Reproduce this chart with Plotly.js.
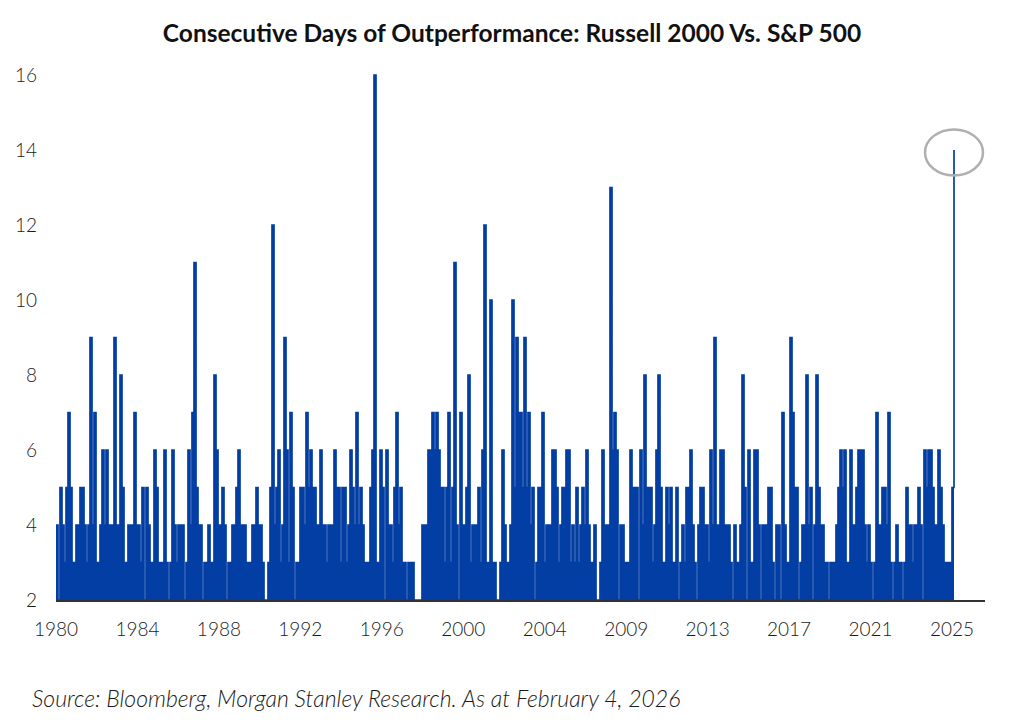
<!DOCTYPE html>
<html>
<head>
<meta charset="utf-8">
<script src="https://cdn.plot.ly/plotly-3.0.1.min.js"></script>
<style>
  html, body { margin: 0; padding: 0; background: #ffffff; }
  #chart { width: 1024px; height: 726px; }
</style>
</head>
<body>
<div id="chart"></div>
<script>
// Consecutive days of Russell 2000 outperformance vs S&P 500 (streak lengths)
const streakDays = [
  4,2,5,4,3,5,7,5,3,3, 4,4,5,5,4,3,4,9,4,7, 3,3,4,6,4,6,4,4,4,9, 4,4,8,5,3,3,4,4,4,7,
  4,4,3,5,2,5,4,3,3,6, 5,3,3,3,6,3,2,3,6,4, 3,4,4,4,2,3,6,4,7,11, 5,4,4,2,3,3,4,3,3,8,
  6,4,4,5,4,2,3,3,4,4, 5,6,4,4,4,3,3,3,4,4, 5,4,4,3,2,2,3,5,12,4, 5,6,3,4,9,6,3,7,5,2,
  3,3,5,5,4,7,5,6,5,5, 4,4,6,4,4,3,4,4,4,6, 5,5,3,5,5,3,4,6,5,4, 7,4,5,4,3,3,3,5,6,16,
  3,3,6,5,2,6,4,4,3,5, 7,4,5,3,3,2,3,3,3,2, 2,2,2,4,4,4,6,6,7,6, 7,6,5,5,3,5,7,3,5,11,
  4,2,7,4,4,5,8,3,4,4, 4,5,3,6,12,3,3,10,3,3, 2,2,3,6,4,3,3,4,10,5, 9,7,7,5,9,5,7,4,5,2,
  3,5,5,7,3,4,4,4,6,6, 5,3,4,5,5,6,6,3,4,3, 5,3,4,5,4,6,4,3,3,4, 2,2,3,6,4,4,4,13,6,7,
  6,2,4,4,3,3,3,6,5,5, 5,2,6,4,8,5,5,5,3,4, 6,8,5,3,3,5,4,5,3,3, 5,2,3,4,3,5,5,6,4,3,
  2,4,5,5,4,4,3,6,4,9, 4,4,6,6,4,4,4,3,2,4, 3,3,4,8,5,2,6,3,3,6, 6,4,2,4,4,4,5,5,3,2,
  4,4,2,7,4,3,3,9,7,5, 5,2,3,4,4,8,4,5,2,4, 8,5,4,4,3,3,2,3,3,3, 4,5,6,5,6,3,3,6,4,4,
  5,6,6,6,4,3,4,3,2,3, 7,4,4,5,5,4,7,3,2,3, 4,3,3,2,3,5,4,4,3,4, 4,5,4,2,6,5,6,6,5,4,
  4,6,5,4,3,3,3,3,5,14
];
const tickYears = ['1980','1984','1988','1992','1996','2000','2004','2009','2013','2017','2021','2025'];
const yTicks = [2, 4, 6, 8, 10, 12, 14, 16];

const N = streakDays.length;
const idx = streakDays.map((_, i) => i);
const step = (N - 2) / (tickYears.length - 1);
const tickPos = tickYears.map((_, i) => i * step);

const blue = '#023EA3';
const fontFam = 'Lato, "Open Sans", sans-serif';

const trace = {
  type: 'scatter',
  mode: 'lines',
  x: idx,
  y: streakDays,
  line: { color: blue, width: 1.7, shape: 'hv' },
  fill: 'tozeroy',
  fillcolor: blue,
  hoverinfo: 'skip'
};

const lastVal = streakDays[N - 1];

const layout = {
  width: 1024,
  height: 726,
  paper_bgcolor: '#ffffff',
  plot_bgcolor: '#ffffff',
  margin: { l: 56, r: 39, t: 60, b: 126 },
  showlegend: false,
  font: { family: fontFam, color: '#1a1a1a' },
  title: {
    text: '<b>Consecutive Days of Outperformance: Russell 2000 Vs. S&amp;P 500</b>',
    font: { family: fontFam, size: 24.5, color: '#111111' },
    xref: 'container', x: 0.5, xanchor: 'center',
    yref: 'container', y: 1 - 33 / 726, yanchor: 'middle'
  },
  xaxis: {
    range: [0, 464.5],
    tickmode: 'array',
    tickvals: tickPos,
    ticktext: tickYears,
    showgrid: false,
    zeroline: false,
    showline: true,
    linecolor: '#333333',
    linewidth: 1.5,
    ticks: '',
    ticklabelstandoff: 12,
    tickfont: { family: fontFam, size: 19, weight: 300, color: '#1a1a1a' },
    fixedrange: true
  },
  yaxis: {
    range: [2, 16.4],
    tickmode: 'array',
    tickvals: yTicks,
    ticktext: yTicks.map(String),
    showgrid: false,
    zeroline: false,
    showline: false,
    ticks: '',
    ticklabelstandoff: 18,
    tickfont: { family: fontFam, size: 19, weight: 300, color: '#1a1a1a' },
    fixedrange: true
  },
  shapes: [{
    type: 'circle',
    xref: 'x', yref: 'y',
    x0: N - 1 - 14.5, x1: N - 1 + 14.5,
    y0: lastVal - 0.68, y1: lastVal + 0.55,
    line: { color: '#AFAFAF', width: 2.5 },
    fillcolor: 'rgba(0,0,0,0)'
  }],
  annotations: [{
    xref: 'paper', yref: 'paper',
    x: -26 / 929, xanchor: 'left',
    y: (600 - 698) / 540, yanchor: 'middle',
    text: '<i>Source: Bloomberg, Morgan Stanley Research. As at February 4, 2026</i>',
    showarrow: false,
    font: { family: fontFam, size: 23, weight: 300, color: '#1a1a1a' }
  }]
};

Plotly.newPlot('chart', [trace], layout, { displayModeBar: false, staticPlot: true });
</script>
</body>
</html>
